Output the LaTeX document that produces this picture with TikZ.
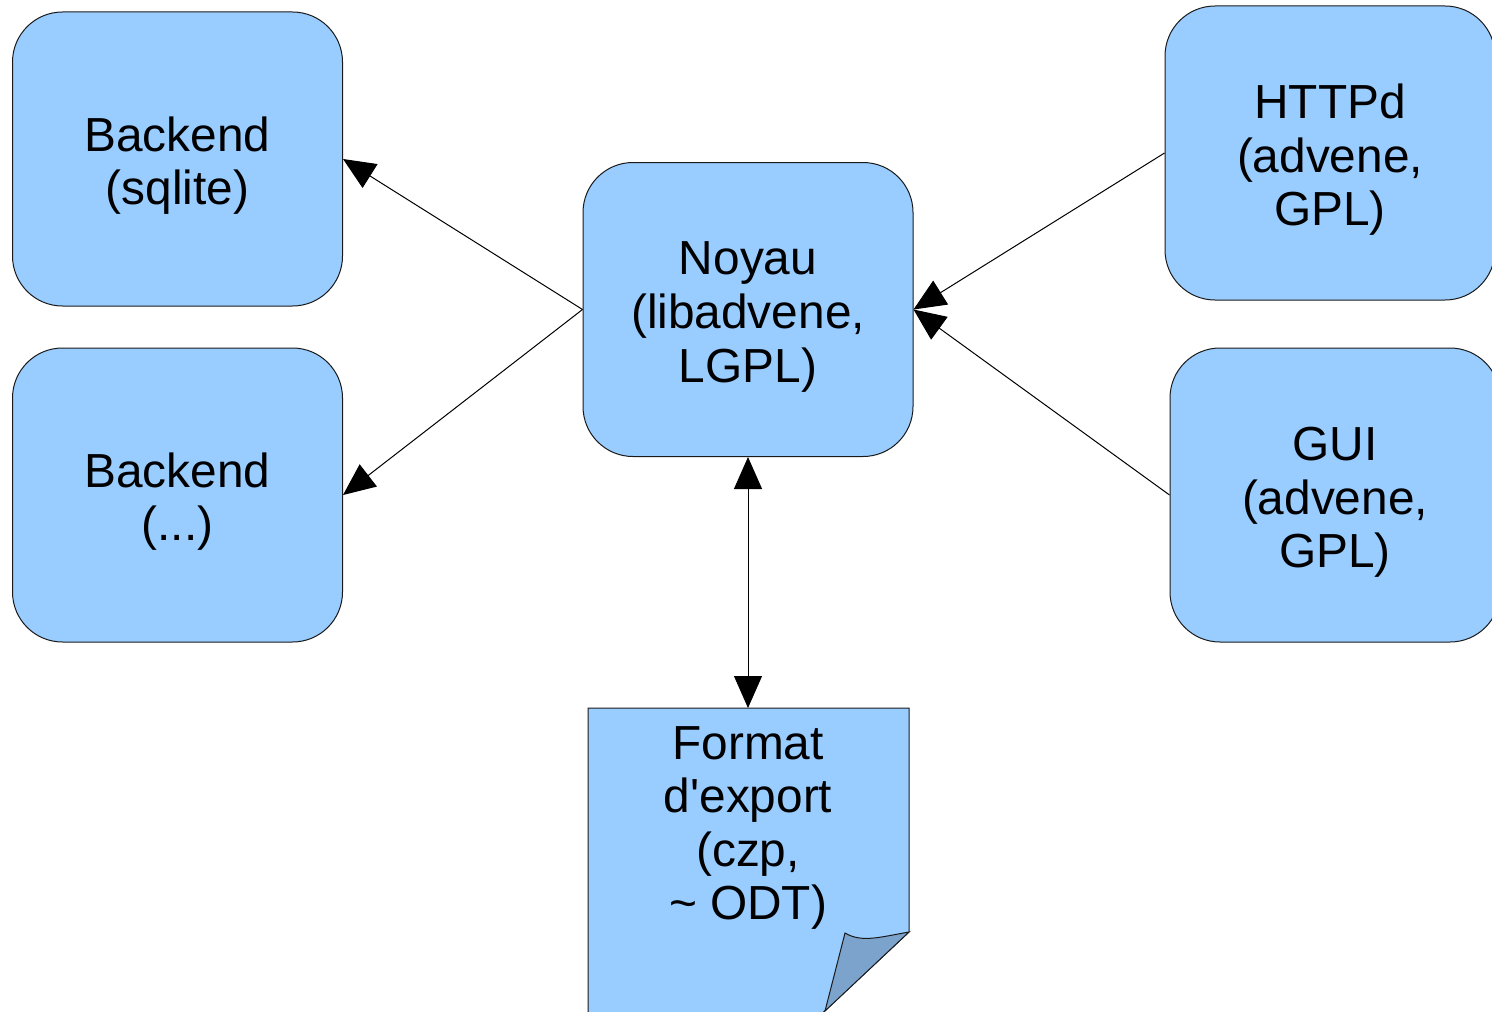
\documentclass[tikz,border=0pt]{standalone}
\usepackage{fontspec}
\setmainfont{Liberation Sans}
\usetikzlibrary{arrows.meta}
\definecolor{boxblue}{HTML}{99CCFF}
\definecolor{foldblue}{HTML}{7BA3CC}
\definecolor{boxline}{HTML}{1A1A1A}
\newcommand{\boxstrut}{\rule{0pt}{24pt}}

\begin{document}
\begin{tikzpicture}[x=0.5pt, y=-0.5pt,
  >={Triangle[length=16pt, width=14pt]}, line width=0.5pt]
 \useasboundingbox (0,0) rectangle (1492,1011);
 \begin{scope}[every node/.style={rectangle, rounded corners=25pt, fill=boxblue, draw=boxline,
     minimum width=165pt, minimum height=147pt, inner sep=0pt, align=center,
     font=\fontsize{23.9}{26.8}\selectfont}]
   \node (sqlite) at (177.5,159) {\boxstrut Backend\\(sqlite)};
   \node (other)  at (177.5,495) {\boxstrut Backend\\(...)};
   \node (noyau)  at (748,309.5) {\boxstrut Noyau\\(libadvene,\\LGPL)};
   \node (httpd)  at (1330,153)  {\boxstrut HTTPd\\(advene,\\GPL)};
   \node (gui)    at (1335,495)  {\boxstrut GUI\\(advene,\\GPL)};
 \end{scope}
 % export format, drawn as a sheet with a turned corner
 \draw [fill=boxblue, draw=boxline] (588,708) -- (909,708) -- (909,932) -- (815,1020) -- (588,1020) -- cycle;
 \draw [fill=foldblue, draw=boxline] (845,933) .. controls (862,943) and (880,937) .. (909,932) -- (825,1011) -- cycle;
 \coordinate (doctop) at (748,708);
 \node (export) [align=center, inner sep=0pt, font=\fontsize{23.9}{26.8}\selectfont] at (748,828)
   {Format\\d\textquotesingle export\\(czp,\\\textasciitilde{} ODT)};
 \draw [->] (noyau.west) -- (sqlite.east);
 \draw [->] (noyau.west) -- (other.east);
 \draw [->] (httpd.west) -- (noyau.east);
 \draw [->] (gui.west) -- (noyau.east);
 \draw [<->] (noyau.south) -- (doctop);
\end{tikzpicture}
\end{document}
